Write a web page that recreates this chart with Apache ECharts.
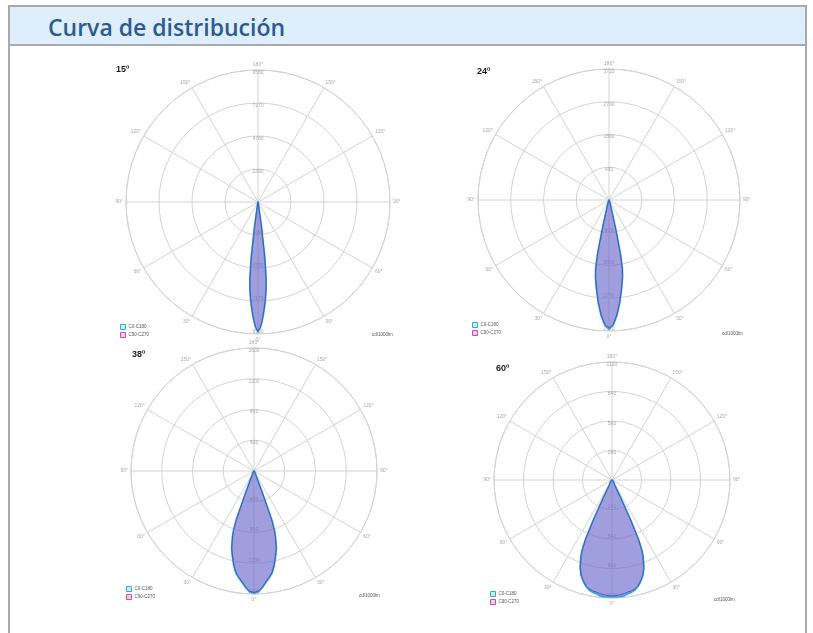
<!DOCTYPE html>
<html><head><meta charset="utf-8">
<script src="https://cdn.jsdelivr.net/npm/echarts@6/dist/echarts.min.js"></script>
<style>
html,body{margin:0;padding:0;background:#fff;width:813px;height:633px;overflow:hidden;}
#frame{position:absolute;left:8px;top:5px;width:799px;height:640px;border:2px solid #a9a9a9;box-sizing:border-box;}
#head{height:39px;box-sizing:border-box;background:#dfeefc;border-bottom:2px solid #a9a9a9;
  font-family:'Open Sans',sans-serif;font-weight:600;font-size:23px;color:#2b5b8f;padding-left:38px;line-height:40px;}
#chart{position:absolute;left:0;top:0;width:813px;height:633px;}
</style></head>
<body>
<div id="frame"><div id="head">Curva de distribución</div></div>
<div id="chart"></div>
<script>
// ---- data ----
const chartTitles = ['15º', '24º', '38º', '60º'];
const ringStep = [2390, 930, 400, 280];
const legendNames = ['C0-C180', 'C90-C270'];
const unitLabel = 'cd/1000lm';

const angles15 = [0, 1, 2, 3, 4, 5, 6, 7, 8, 9, 10, 12, 15, 20, 30, 45, 60, 90];
const c0_15  = [9410, 9120, 8620, 7960, 7310, 6590, 5650, 3980, 1740, 430, 140, 60, 30, 15, 7, 3, 0, 0];
const c90_15 = [9380, 9100, 8600, 7950, 7290, 6570, 5620, 3950, 1720, 420, 135, 58, 29, 14, 6, 3, 0, 0];

const angles24 = [0, 2, 4, 6, 8, 10, 11, 12, 13, 14, 15, 17, 20, 30, 45, 60, 90];
const c0_24  = [3665, 3550, 3270, 2925, 2555, 2215, 1990, 1560, 850, 400, 200, 115, 57, 14, 6, 0, 0];
const c90_24 = [3640, 3530, 3255, 2915, 2550, 2210, 1985, 1550, 840, 395, 195, 110, 55, 13, 5, 0, 0];

const angles38 = [0, 2, 4, 6, 8, 10, 12, 14, 16, 18, 19, 20, 21, 22, 24, 27, 30, 40, 60, 90];
const c0_38  = [1590, 1575, 1525, 1460, 1405, 1350, 1260, 1155, 1055, 910, 820, 675, 310, 145, 65, 40, 26, 13, 6, 0];
const c90_38 = [1580, 1565, 1518, 1452, 1400, 1345, 1255, 1150, 1050, 905, 815, 670, 305, 140, 62, 38, 25, 12, 6, 0];

const angles60 = [0, 2, 4, 6, 8, 10, 12, 14, 16, 18, 20, 22, 23, 24, 25, 26, 27, 28, 30, 35, 40, 50, 60, 90];
const c0_60  = [1110, 1110, 1110, 1105, 1090, 1080, 1065, 1035, 995, 950, 885, 790, 730, 625, 425, 190, 95, 55, 45, 28, 19, 9, 5, 0];
const c90_60 = [1100, 1098, 1092, 1085, 1075, 1068, 1055, 1030, 992, 948, 880, 785, 725, 620, 420, 185, 92, 52, 44, 27, 18, 9, 5, 0];

const chartData = [
  { angles: angles15, c0: c0_15, c90: c90_15 },
  { angles: angles24, c0: c0_24, c90: c90_24 },
  { angles: angles38, c0: c0_38, c90: c90_38 },
  { angles: angles60, c0: c0_60, c90: c90_60 }
];

// ---- layout ----
const layout = [
  { cx: 258, cy: 202, r: 132, title: [116, 65], legend: [120, 324], unit: [372, 332] },
  { cx: 609, cy: 200, r: 131, title: [477, 67], legend: [472, 322], unit: [722, 331] },
  { cx: 254, cy: 471, r: 123, title: [132, 350], legend: [126, 586], unit: [359, 593] },
  { cx: 612, cy: 480, r: 118, title: [496, 364], legend: [490, 591], unit: [714, 597] }
];

const gridColor = '#d2d2d2';
const labelColor = '#a8a8a8';
const lobeStyles = [
  { fill: 'rgba(90,95,200,0.55)', stroke: '#38a6dc', lineWidth: 1.8 },
  { fill: 'rgba(150,130,210,0.25)', stroke: '#3f55b2', lineWidth: 0.9 }
];
const legendStyles = [
  { color: '#c6eef8', borderColor: '#2cb0d6', borderWidth: 1 },
  { color: '#f6d0ea', borderColor: '#d04aa8', borderWidth: 1 }
];

function angleLabel(v) {
  if (v === 360) return '';
  return (v <= 180 ? v : 360 - v) + '°';
}

const polar = [], angleAxis = [], radiusAxis = [], series = [], title = [], legend = [];
layout.forEach((L, i) => {
  const step = ringStep[i];
  polar.push({ center: [L.cx, L.cy], radius: L.r });
  angleAxis.push({
    polarIndex: i, type: 'value', min: 0, max: 360, interval: 30, startAngle: 270, clockwise: true,
    axisLine: { lineStyle: { color: gridColor, width: 1 } },
    axisTick: { show: false },
    axisLabel: { fontSize: 5, color: labelColor, margin: 3, fontFamily: 'Arial', formatter: angleLabel },
    splitLine: { show: true, lineStyle: { color: gridColor, width: 1 } }
  });
  radiusAxis.push({
    polarIndex: i, type: 'value', min: 0, max: step * 4, interval: step,
    axisLine: { show: false }, axisTick: { show: false },
    axisLabel: { fontSize: 5, color: labelColor, margin: 0, align: 'center', verticalAlign: 'bottom',
      fontFamily: 'Arial', formatter: v => (v === 0 ? '' : String(v)) },
    splitLine: { show: true, lineStyle: { color: gridColor, width: 1 } }
  });
  title.push({ text: chartTitles[i], left: L.title[0], top: L.title[1], padding: 0,
    textStyle: { fontSize: 9, fontWeight: 'bold', color: '#1a1a1a', fontFamily: 'Arial' } });
  title.push({ text: unitLabel, left: L.unit[0], top: L.unit[1], padding: 0,
    textStyle: { fontSize: 4.5, fontWeight: 'normal', color: '#555', fontFamily: 'Arial' } });
  legend.push({
    left: L.legend[0], top: L.legend[1], orient: 'vertical', padding: 0,
    itemWidth: 5, itemHeight: 5, itemGap: 2, selectedMode: false,
    textStyle: { fontSize: 4.5, color: '#555', fontFamily: 'Arial', padding: [0, 0, 0, -2] },
    data: legendNames.map((n, k) => ({ name: n, icon: 'rect', itemStyle: legendStyles[k] }))
  });
});
// secondary polars for upper ring labels
layout.forEach((L, i) => {
  const step = ringStep[i];
  const pi = polar.length;
  polar.push({ center: [L.cx, L.cy], radius: L.r });
  angleAxis.push({ polarIndex: pi, type: 'value', min: 0, max: 360, startAngle: 90, show: false });
  radiusAxis.push({
    polarIndex: pi, type: 'value', min: 0, max: step * 4, interval: step,
    axisLine: { show: false }, axisTick: { show: false }, splitLine: { show: false },
    axisLabel: { fontSize: 5, color: labelColor, margin: 0, align: 'center', verticalAlign: 'top',
      fontFamily: 'Arial', formatter: v => (v === 0 ? '' : String(v)) }
  });
});

function lobe(name, polarIndex, angles, values, st) {
  const pts = [];
  for (let k = angles.length - 1; k >= 0; k--) pts.push([values[k], 360 - angles[k]]);
  for (let k = 0; k < angles.length; k++) pts.push([values[k], angles[k]]);
  return {
    type: 'custom', name: name, coordinateSystem: 'polar', polarIndex: polarIndex,
    data: pts, silent: true,
    itemStyle: { color: st.stroke },
    renderItem: function (params, api) {
      if (params.dataIndex !== 0) return null;
      const points = pts.map(p => { const c = api.coord(p); return [c[0], c[1]]; });
      return { type: 'polygon', shape: { points: points, smooth: 0 },
        style: { fill: st.fill, stroke: st.stroke, lineWidth: st.lineWidth, lineJoin: 'round' } };
    }
  };
}

chartData.forEach((d, i) => {
  series.push(lobe(legendNames[0], i, d.angles, d.c0, lobeStyles[0]));
  series.push(lobe(legendNames[1], i, d.angles, d.c90, lobeStyles[1]));
});

const chart = echarts.init(document.getElementById('chart'), null, { renderer: 'canvas' });
chart.setOption({
  animation: false,
  backgroundColor: 'transparent',
  title: title, legend: legend,
  polar: polar, angleAxis: angleAxis, radiusAxis: radiusAxis,
  series: series
});
</script>
</body></html>
